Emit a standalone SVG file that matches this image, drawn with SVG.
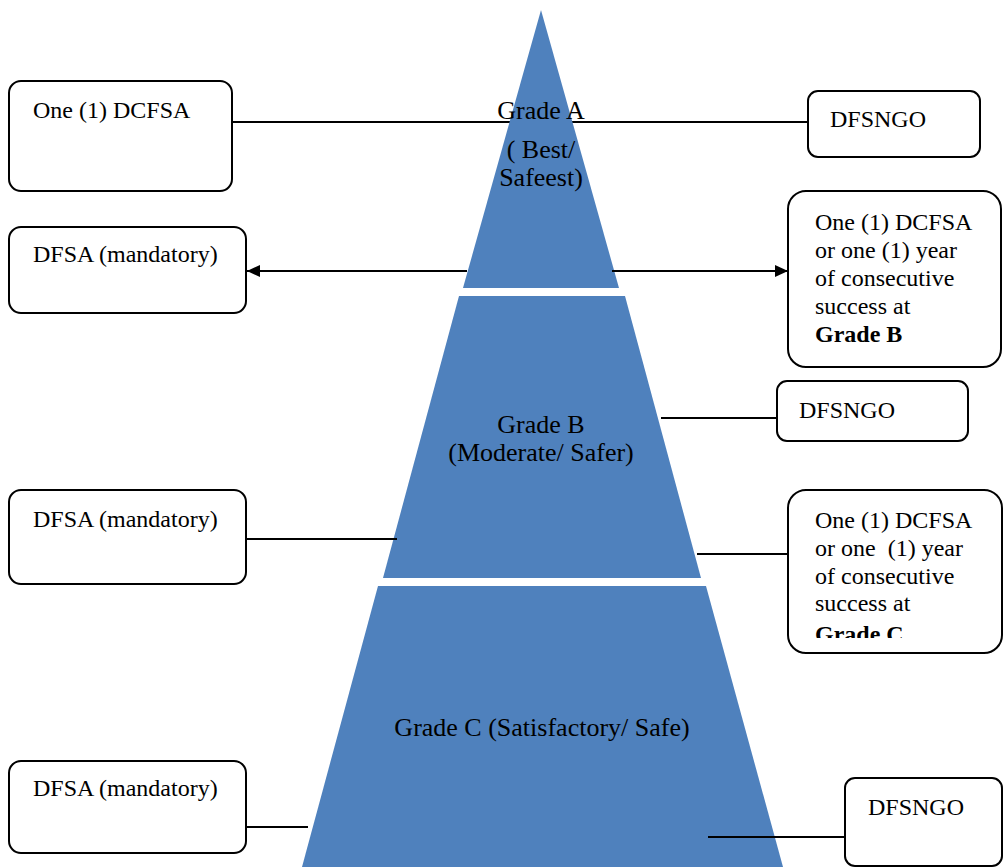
<svg xmlns="http://www.w3.org/2000/svg" width="1003" height="867" viewBox="0 0 1003 867">
<defs>
<style>
.box{fill:#fff;stroke:#000;stroke-width:2}
.t{font-family:"Liberation Serif","Times New Roman",serif;font-size:24px;fill:#000}
.tb{font-weight:bold}
.g{font-family:"Liberation Serif","Times New Roman",serif;font-size:26px;fill:#000;text-anchor:middle}
.seg{fill:#4f81bd}
.ln{stroke:#000;stroke-width:2;fill:none}
</style>
<marker id="ah" viewBox="0 0 13 12" refX="13" refY="6" markerWidth="13" markerHeight="12" markerUnits="userSpaceOnUse" orient="auto">
<path d="M0,0 L13,6 L0,12 z" fill="#000"/>
</marker>
<clipPath id="clipC"><rect x="788" y="490" width="215" height="148"/></clipPath>
</defs>
<g id="connectors-under">
<line class="ln" x1="232" y1="122" x2="808" y2="122"/>
</g>
<g id="pyramid">
<polygon id="gradeA" class="seg" points="541,10 619,288 463,288"/>
<polygon id="gradeB" class="seg" points="459,296 625,296 701,578 383,578"/>
<polygon id="gradeC" class="seg" points="378,586 706,586 783,867 302,867"/>
<text class="g" x="541" y="119">Grade A</text>
<text class="g" x="541" y="158">( Best/</text>
<text class="g" x="541" y="186">Safeest)</text>
<text class="g" x="541" y="433">Grade B</text>
<text class="g" x="541" y="461">(Moderate/ Safer)</text>
<text class="g" x="542" y="736">Grade C (Satisfactory/ Safe)</text>
</g>
<g id="connectors">
<line class="ln" x1="467" y1="271" x2="247" y2="271" marker-end="url(#ah)"/>
<line class="ln" x1="612" y1="271" x2="788" y2="271" marker-end="url(#ah)"/>
<line class="ln" x1="661" y1="418" x2="777" y2="418"/>
<line class="ln" x1="246" y1="539" x2="397" y2="539"/>
<line class="ln" x1="697" y1="554" x2="788" y2="554"/>
<line class="ln" x1="246" y1="827" x2="308" y2="827"/>
<line class="ln" x1="708" y1="837" x2="845" y2="837"/>
</g>
<g id="box-dcfsa-top">
<rect class="box" x="9" y="81" width="223" height="110" rx="12"/>
<text class="t" x="33" y="118">One (1) DCFSA</text>
</g>
<g id="box-dfsngo-top">
<rect class="box" x="808" y="91" width="172" height="66" rx="10"/>
<text class="t" x="830" y="127">DFSNGO</text>
</g>
<g id="box-dfsa-1">
<rect class="box" x="9" y="227" width="237" height="86" rx="12"/>
<text class="t" x="33" y="262">DFSA (mandatory)</text>
</g>
<g id="box-dcfsa-b">
<rect class="box" x="788" y="191" width="213" height="176" rx="18"/>
<text class="t" x="815" y="230">One (1) DCFSA</text>
<text class="t" x="815" y="258">or one (1) year</text>
<text class="t" x="815" y="286">of consecutive</text>
<text class="t" x="815" y="314">success at</text>
<text class="t tb" x="815" y="342">Grade B</text>
</g>
<g id="box-dfsngo-mid">
<rect class="box" x="777" y="381" width="191" height="60" rx="10"/>
<text class="t" x="799" y="418">DFSNGO</text>
</g>
<g id="box-dfsa-2">
<rect class="box" x="9" y="490" width="237" height="94" rx="12"/>
<text class="t" x="33" y="527">DFSA (mandatory)</text>
</g>
<g id="box-dcfsa-c">
<rect class="box" x="788" y="490" width="214" height="163" rx="18"/>
<g clip-path="url(#clipC)">
<text class="t" x="815" y="528">One (1) DCFSA</text>
<text class="t" x="815" y="556" xml:space="preserve">or one  (1) year</text>
<text class="t" x="815" y="584">of consecutive</text>
<text class="t" x="815" y="611">success at</text>
<text class="t tb" x="815" y="642">Grade C</text>
</g>
</g>
<g id="box-dfsa-3">
<rect class="box" x="9" y="761" width="237" height="92" rx="12"/>
<text class="t" x="33" y="796">DFSA (mandatory)</text>
</g>
<g id="box-dfsngo-bot">
<rect class="box" x="845" y="778" width="157" height="88" rx="10"/>
<text class="t" x="868" y="815">DFSNGO</text>
</g>
</svg>
